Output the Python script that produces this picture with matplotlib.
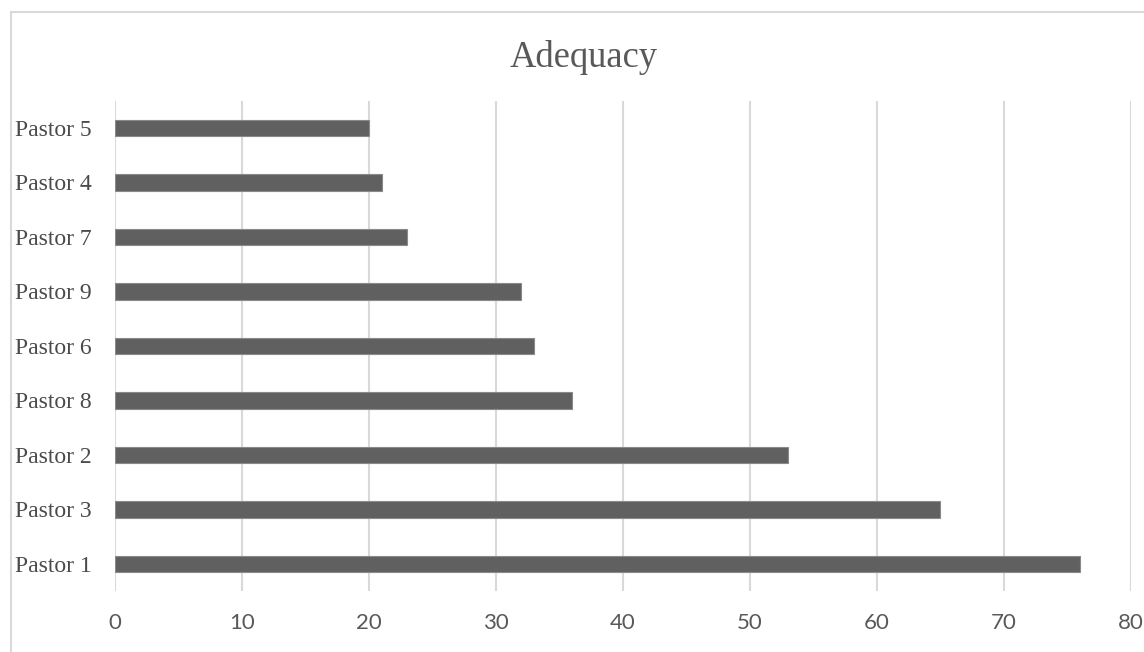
import matplotlib
matplotlib.use("Agg")
import matplotlib.pyplot as plt
from matplotlib.lines import Line2D

categories = ["Pastor 1", "Pastor 3", "Pastor 2", "Pastor 8", "Pastor 6",
              "Pastor 9", "Pastor 7", "Pastor 4", "Pastor 5"]
values = [76, 65, 53, 36, 33, 32, 23, 21, 20]
x_ticks = [0, 10, 20, 30, 40, 50, 60, 70, 80]
title = "Adequacy"

W, H = 1144, 652
fig = plt.figure(figsize=(W / 100, H / 100), dpi=100)
ax = fig.add_axes([0.1005, 0.0932, 0.8881, 0.7523])

ypos = list(range(len(categories)))
ax.barh(ypos, values, height=0.30, color="#606060", edgecolor="#8a8a8a",
        linewidth=0.8, zorder=3)

ax.set_xlim(0, 80)
ax.set_ylim(-0.5, len(categories) - 0.5)
ax.set_xticks(x_ticks)
ax.set_xticklabels([str(t) for t in x_ticks], family="Lato", fontsize=16,
                   color="#595959")
ax.set_yticks(ypos)
ax.set_yticklabels(categories, family="Liberation Serif", fontsize=17,
                   color="#4a4a4a")
ax.tick_params(axis="both", length=0)
ax.tick_params(axis="x", pad=16)
ax.tick_params(axis="y", pad=17)

ax.grid(axis="x", color="#d9d9d9", linewidth=1.5, zorder=0)
ax.set_axisbelow(True)
for s in ax.spines.values():
    s.set_visible(False)

fig.text(584 / W, 1 - 67 / H, title, ha="center", va="baseline",
         family="Liberation Serif", fontsize=26.3, color="#595959")

# chart area frame (top and left edges)
fig.add_artist(Line2D([11 / W, 1.0], [1 - 12 / H, 1 - 12 / H],
                      transform=fig.transFigure, color="#d9d9d9", linewidth=1.5))
fig.add_artist(Line2D([11 / W, 11 / W], [0.0, 1 - 12 / H],
                      transform=fig.transFigure, color="#d9d9d9", linewidth=1.5))

fig.savefig("out.png", dpi=100, facecolor="white")
